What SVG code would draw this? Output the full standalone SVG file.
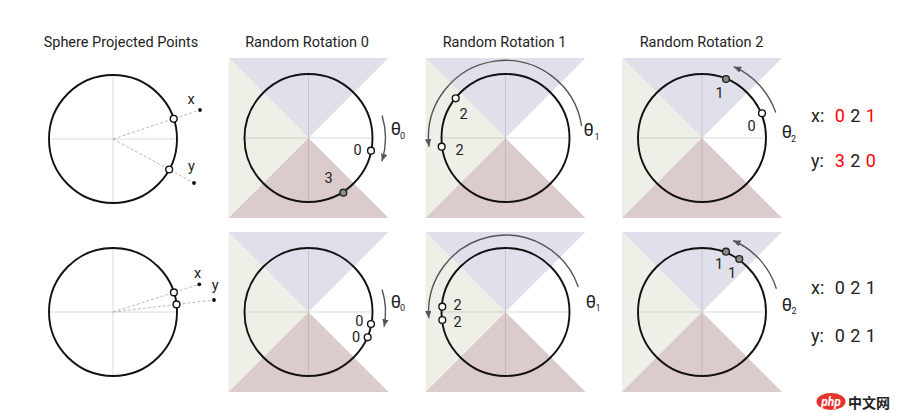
<svg xmlns="http://www.w3.org/2000/svg" width="898" height="413" viewBox="0 0 898 413">
<style>
text{font-family:Roboto,"Noto Sans","Liberation Sans",sans-serif;fill:#222}
.title{font-size:14.5px;text-anchor:middle}
.lbl{font-size:14.5px;text-anchor:middle}
.th{font-size:18px}
.sub{font-size:9px}
.big{font-size:18px}
.red{fill:#ff0000}
.ring{fill:none;stroke:#111;stroke-width:1.9}
.axis{fill:none;stroke:#999;stroke-opacity:0.35;stroke-width:1}
.dash{fill:none;stroke:#bbb;stroke-width:1;stroke-dasharray:3 2}
.op{fill:#fff;stroke:#111;stroke-width:1.4}
.gp{fill:#8a8a8a;stroke:#222;stroke-width:1.4}
.dot{fill:#111}
.arc{fill:none;stroke:#555;stroke-width:1.4;marker-end:url(#ah)}
</style>
<defs>
<marker id="ah" markerUnits="userSpaceOnUse" markerWidth="9" markerHeight="7" refX="7.5" refY="3.2" orient="auto">
<path d="M0,0 L7.5,3.2 L0,6.4 z" fill="#555"/>
</marker>
<g id="bg">
<polygon points="-80,-80 80,-80 0,0" fill="#dfe0ea"/>
<polygon points="-80,-80 -80,80 0,0" fill="#eeefe7"/>
<polygon points="-80,80 80,80 0,0" fill="#dccbcb"/>
</g>
<g id="ax">
<path class="axis" d="M-64,0 H64 M0,-64 V64"/>
<circle class="ring" r="64"/>
</g>
</defs>
<rect width="898" height="413" fill="#fff"/>

<g id="titles">
<text class="title" x="121" y="47">Sphere Projected Points</text>
<text class="title" x="307" y="47">Random Rotation 0</text>
<text class="title" x="504.5" y="47">Random Rotation 1</text>
<text class="title" x="701.5" y="47">Random Rotation 2</text>
</g>

<!-- Row 1 -->
<g id="p1-top">
<path class="dash" d="M113,139 L200,110 M113,139 L194,183"/>
<use href="#ax" x="113" y="139"/>
<circle class="op" cx="173.7" cy="118.8" r="3.4"/>
<circle class="op" cx="169.2" cy="169.5" r="3.4"/>
<circle class="dot" cx="200" cy="110" r="1.9"/>
<circle class="dot" cx="194" cy="183" r="1.9"/>
<text class="lbl" x="191" y="103.5">x</text>
<text class="lbl" x="191.5" y="171">y</text>
</g>

<g id="p2-top">
<use href="#bg" x="308.5" y="138"/>
<use href="#ax" x="308.5" y="138"/>
<circle class="op" cx="371" cy="150.7" r="3.4"/>
<circle class="gp" cx="343.3" cy="192.7" r="3.4"/>
<text class="lbl" x="357.7" y="155">0</text>
<text class="lbl" x="328.7" y="183.3">3</text>
<text class="th" x="390.7" y="135">θ</text><text class="sub" x="400" y="138.5">0</text>
</g>

<g id="p3-top">
<use href="#bg" x="505.5" y="138"/>
<use href="#ax" x="505.5" y="138"/>
<circle class="op" cx="455.7" cy="98.3" r="3.4"/>
<circle class="op" cx="441.7" cy="146.7" r="3.4"/>
<text class="lbl" x="463.7" y="119.3">2</text>
<text class="lbl" x="459.7" y="155">2</text>
<text class="th" x="583.5" y="136">θ</text><text class="sub" x="594.5" y="139.5">1</text>
</g>

<g id="p4-top">
<use href="#bg" x="702" y="138"/>
<use href="#ax" x="702" y="138"/>
<circle class="gp" cx="726" cy="79" r="3.4"/>
<circle class="op" cx="762" cy="113.3" r="3.4"/>
<text class="lbl" x="719.5" y="98.3">1</text>
<text class="lbl" x="751.7" y="131">0</text>
<text class="th" x="781.7" y="138">θ</text><text class="sub" x="791" y="141.5">2</text>
</g>

<g id="res-top">
<text class="big" x="811" y="121.5">x:</text>
<text class="big red" x="834.8" y="121.5">0</text>
<text class="big" x="850.3" y="121.5">2</text>
<text class="big red" x="865.8" y="121.5">1</text>
<text class="big" x="811" y="167">y:</text>
<text class="big red" x="834.8" y="167">3</text>
<text class="big" x="850.3" y="167">2</text>
<text class="big red" x="865.8" y="167">0</text>
</g>

<!-- Row 2 -->
<g id="p1-bot">
<path class="dash" d="M113,312 L199.3,284.3 M113,312 L214,300"/>
<use href="#ax" x="113" y="312"/>
<circle class="op" cx="173.9" cy="292.4" r="3.4"/>
<circle class="op" cx="176.5" cy="304.4" r="3.4"/>
<circle class="dot" cx="199.3" cy="284.3" r="1.9"/>
<circle class="dot" cx="214" cy="300" r="1.9"/>
<text class="lbl" x="197.7" y="277.7">x</text>
<text class="lbl" x="215.3" y="290">y</text>
</g>

<g id="p2-bot">
<use href="#bg" x="308.5" y="312"/>
<use href="#ax" x="308.5" y="312"/>
<circle class="op" cx="371" cy="324" r="3.4"/>
<circle class="op" cx="367.7" cy="337.3" r="3.4"/>
<text class="lbl" x="359.3" y="326">0</text>
<text class="lbl" x="356" y="341.7">0</text>
<text class="th" x="390.7" y="308">θ</text><text class="sub" x="400" y="311">0</text>
</g>

<g id="p3-bot">
<use href="#bg" x="505.5" y="312"/>
<use href="#ax" x="505.5" y="312"/>
<circle class="op" cx="442.3" cy="306.7" r="3.4"/>
<circle class="op" cx="442.3" cy="320" r="3.4"/>
<text class="lbl" x="457.5" y="310">2</text>
<text class="lbl" x="457.5" y="326.7">2</text>
<text class="th" x="585.7" y="307.7">θ</text><text class="sub" x="595.5" y="310.5">1</text>
</g>

<g id="p4-bot">
<use href="#bg" x="702" y="312"/>
<use href="#ax" x="702" y="312"/>
<circle class="gp" cx="726" cy="251.7" r="3.4"/>
<circle class="gp" cx="739.3" cy="259" r="3.4"/>
<text class="lbl" x="719" y="269">1</text>
<text class="lbl" x="732" y="277.7">1</text>
<text class="th" x="781.7" y="311">θ</text><text class="sub" x="791.5" y="314">2</text>
</g>

<g id="res-bot">
<text class="big" x="811" y="293.5">x:</text>
<text class="big" x="834.8" y="293.5">0</text>
<text class="big" x="850.3" y="293.5">2</text>
<text class="big" x="865.8" y="293.5">1</text>
<text class="big" x="811" y="341.7">y:</text>
<text class="big" x="834.8" y="341.7">0</text>
<text class="big" x="850.3" y="341.7">2</text>
<text class="big" x="865.8" y="341.7">1</text>
</g>

<g id="connectors">
<path class="arc" d="M382.1,115.5 A77,77 0 0 1 381.9,161.2"/>
<path class="arc" d="M581.6,126 A77,77 0 0 0 429,146.6"/>
<path class="arc" d="M775.8,112.6 A78,78 0 0 0 733.7,66.7"/>
<path class="arc" d="M382.1,289.5 A77,77 0 0 1 384.1,326.7"/>
<path class="arc" d="M578.3,286.9 A77,77 0 0 0 428.8,318.2"/>
<path class="arc" d="M776.4,288.7 A78,78 0 0 0 733.1,240.5"/>
</g>

<g id="watermark">
<ellipse cx="831" cy="401.5" rx="14.5" ry="8.5" fill="#e8332b"/>
<text x="831" y="405.5" style="font-size:12px;font-style:italic;font-weight:bold;fill:#fff;text-anchor:middle">php</text>
<text x="848" y="408" style="font-size:14px;font-weight:bold;fill:#222;font-family:'Noto Sans CJK SC',sans-serif">中文网</text>
</g>
</svg>
